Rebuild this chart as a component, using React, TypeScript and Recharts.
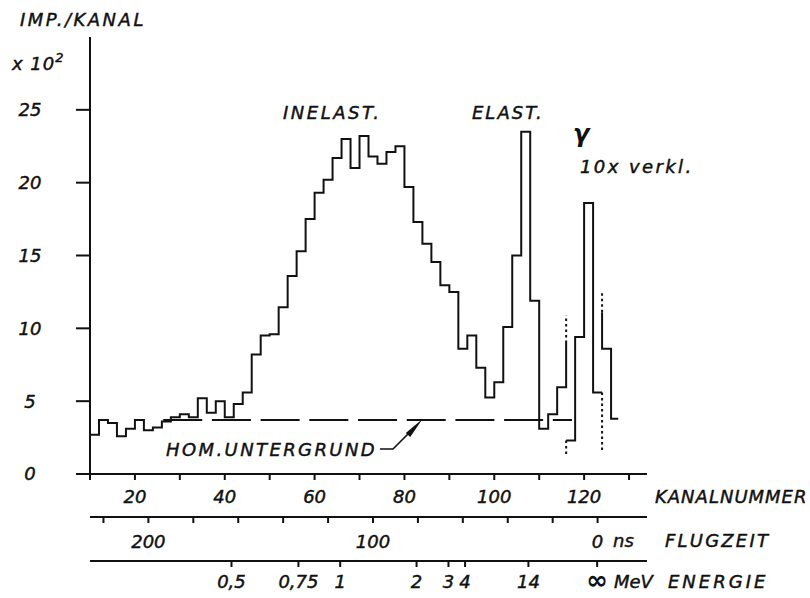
import React from 'react';
import { LineChart, Line, XAxis, YAxis } from 'recharts';

// histogram: bins of 2 channels, first bin edge at channel 10
const BIN0 = 10;
const BINW = 2;

// Imp./Kanal (x 10^2), channels 10..116
const spectrum = [
  2.7, 3.7, 3.5, 2.6, 3.1, 3.7, 3.0, 3.2, 3.6, 3.9, 4.1, 3.9, 5.2, 4.2, 5.0, 3.9,
  4.8, 5.6, 8.2, 9.5, 9.6, 11.45, 13.6, 15.3, 17.5, 19.3, 20.2, 21.7, 23.0, 21.0,
  23.2, 21.8, 21.3, 22.1, 22.5, 19.7, 17.3, 15.8, 14.55, 12.95, 12.5, 8.6, 9.5,
  7.3, 5.25, 6.3, 10.1, 15.0, 23.5, 11.9, 3.1, 4.1, 5.95,
];
const spectrumCloseTop = 9.0;

// gamma peak, drawn 10x reduced, channels 116..124
const gammaStart = 116;
const gamma = [2.3, 9.4, 18.6, 5.6];

// tail after the gamma peak
const tailEdges = [124, 126, 127.6];
const tail = [8.6, 3.8];
const tailOpenTop = 11.1;

// dotted continuations (channel, from, to)
const dotted = [
  { ch: 116, from: 9.0, to: 10.9 },
  { ch: 116, from: 2.3, to: 1.2 },
  { ch: 124, from: 5.6, to: 1.5 },
  { ch: 124, from: 11.1, to: 12.6 },
];

// homogeneous background
const background = { from: 26.3, to: 117.3, level: 3.7 };

const yTicks = [0, 5, 10, 15, 20, 25];
const channelDomain = [10, 134];
const channelTicks = [10, 20, 30, 40, 50, 60, 70, 80, 90, 100, 110, 120, 130];
const channelLabels = [20, 40, 60, 80, 100, 120];
const flightDomain = [-22, 226];
const flightTicks = [0, 20, 40, 60, 80, 100, 120, 140, 160, 180, 200, 220];
const flightLabels = [0, 100, 200];
const energyChannels = [41.5, 56.4, 65.7, 82.7, 89.8, 93.5, 107.6, 122.9];
const energyLabels = ['0,5', '0,75', '1', '2', '3', '4', '14', '∞'];

const INK = '#111';
const FONT = '"DejaVu Sans", sans-serif';

function steps(edges: number[], values: number[], open?: number, close?: number) {
  const pts: { x: number; y: number }[] = [];
  if (open != null) pts.push({ x: edges[0], y: open });
  values.forEach((v, i) => pts.push({ x: edges[i], y: v }));
  pts.push({ x: edges[values.length], y: close ?? values[values.length - 1] });
  return pts;
}

const spectrumEdges = [...spectrum, 0].map((_, i) => BIN0 + i * BINW);
const gammaEdges = [...gamma, 0].map((_, i) => gammaStart + i * BINW);

const tickStyle = {
  fontFamily: FONT,
  fontStyle: 'italic',
  fontSize: 18,
  fill: INK,
  stroke: INK,
  strokeWidth: 0.45,
};
const axisLine = { stroke: INK, strokeWidth: 2 };

function Txt({ x, y, size = 18, ls = 0, bold = false, children }: any) {
  return (
    <div
      style={{
        position: 'absolute',
        left: x,
        top: y,
        transform: 'translateY(-50%)',
        fontFamily: FONT,
        fontStyle: 'italic',
        fontWeight: bold ? 700 : 400,
        fontSize: size,
        lineHeight: 1,
        letterSpacing: ls,
        whiteSpace: 'nowrap',
        color: INK,
        WebkitTextStroke: bold ? undefined : '0.45px ' + INK,
      }}
    >
      {children}
    </div>
  );
}

function EnergyTick({ x, y, payload }: any) {
  const i = energyChannels.indexOf(payload.value);
  const label = energyLabels[i] ?? '';
  const inf = label === '∞';
  return (
    <text
      x={x}
      y={inf ? y - 4 : y}
      dy="0.71em"
      textAnchor="middle"
      fontFamily={FONT}
      fontStyle="italic"
      fontSize={inf ? 26 : 18}
      fontWeight={inf ? 700 : 400}
      fill={INK}
      stroke={INK}
      strokeWidth={inf ? 0 : 0.45}
    >
      {label}
    </text>
  );
}

export default function App() {
  const line = {
    xAxisId: 'x1',
    dataKey: 'y',
    stroke: INK,
    strokeWidth: 2,
    dot: false,
    activeDot: false,
    isAnimationActive: false,
  } as const;

  return (
    <div style={{ position: 'absolute', left: 0, top: 0, width: 810, height: 598, background: '#fff' }}>
      <LineChart width={810} height={598} margin={{ top: 37, right: 163, bottom: 0, left: 0 }}>
        {/* Kanalnummer */}
        <XAxis
          xAxisId="x1"
          type="number"
          dataKey="x"
          domain={channelDomain}
          allowDataOverflow
          ticks={channelTicks}
          interval={0}
          tickFormatter={(v: number) => (channelLabels.includes(v) ? String(v) : '')}
          height={43}
          tickSize={6}
          tickMargin={10}
          axisLine={axisLine}
          tickLine={axisLine}
          tick={tickStyle}
        />
        {/* Flugzeit */}
        <XAxis
          xAxisId="x2"
          type="number"
          dataKey="x"
          reversed
          domain={flightDomain}
          allowDataOverflow
          ticks={flightTicks}
          interval={0}
          tickFormatter={(v: number) => (flightLabels.includes(v) ? String(v) : '')}
          height={44}
          tickSize={6}
          tickMargin={12}
          axisLine={axisLine}
          tickLine={axisLine}
          tick={tickStyle}
        />
        {/* Energie */}
        <XAxis
          xAxisId="x3"
          type="number"
          dataKey="x"
          domain={channelDomain}
          allowDataOverflow
          ticks={energyChannels}
          interval={0}
          height={37}
          tickSize={6}
          tickMargin={8}
          axisLine={axisLine}
          tickLine={axisLine}
          tick={<EnergyTick />}
        />
        <YAxis
          type="number"
          domain={[0, 30]}
          allowDataOverflow
          ticks={yTicks}
          interval={0}
          width={90}
          tickSize={14}
          tickMargin={46}
          axisLine={axisLine}
          tickLine={axisLine}
          tick={{ ...tickStyle, textAnchor: 'middle' }}
        />
        {/* invisible carriers so the flight-time and energy scales get built */}
        <Line
          {...line}
          xAxisId="x2"
          stroke="none"
          data={flightDomain.map((x) => ({ x, y: 0 }))}
        />
        <Line
          {...line}
          xAxisId="x3"
          stroke="none"
          data={channelDomain.map((x) => ({ x, y: 0 }))}
        />
        <Line
          {...line}
          data={[
            { x: background.from, y: background.level },
            { x: background.to, y: background.level },
          ]}
          type="linear"
          strokeDasharray="39 9.7"
        />
        <Line {...line} type="stepAfter" data={steps(spectrumEdges, spectrum, undefined, spectrumCloseTop)} />
        <Line {...line} type="stepAfter" data={steps(gammaEdges, gamma)} />
        <Line {...line} type="stepAfter" data={steps(tailEdges, tail, tailOpenTop)} />
        {dotted.map((d, i) => (
          <Line
            key={i}
            {...line}
            type="linear"
            strokeDasharray="2.5 3"
            data={[
              { x: d.ch, y: d.from },
              { x: d.ch, y: d.to },
            ]}
          />
        ))}
      </LineChart>

      <Txt x={20} y={20} ls={2.5}>IMP./KANAL</Txt>
      <Txt x={12} y={62} ls={1}>
        x 10<sup style={{ fontSize: 13, verticalAlign: '0.55em' }}>2</sup>
      </Txt>
      <Txt x={283} y={113} ls={2.5}>INELAST.</Txt>
      <Txt x={472} y={113} ls={2}>ELAST.</Txt>
      <Txt x={573} y={134} size={24} bold>γ</Txt>
      <Txt x={580} y={167} ls={2.4}>10x verkl.</Txt>
      <Txt x={166} y={450} ls={2.4}>HOM.UNTERGRUND</Txt>
      <Txt x={655} y={497} ls={1}>KANALNUMMER</Txt>
      <Txt x={613} y={541}>ns</Txt>
      <Txt x={665} y={541} ls={2.2}>FLUGZEIT</Txt>
      <Txt x={614} y={582}>MeV</Txt>
      <Txt x={668} y={582} ls={3}>ENERGIE</Txt>

      <svg width={810} height={598} style={{ position: 'absolute', left: 0, top: 0, pointerEvents: 'none' }}>
        <polyline points="380,449 393,449 410,432" fill="none" stroke={INK} strokeWidth={1.6} />
        <polygon points="422.5,419 410.2,437 405.8,433" fill={INK} />
      </svg>
    </div>
  );
}
